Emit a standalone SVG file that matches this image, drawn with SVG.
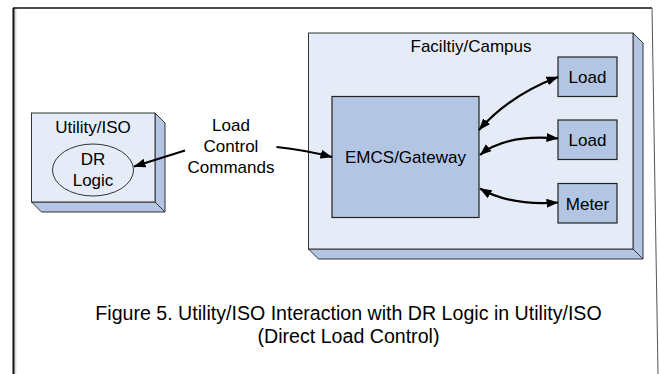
<svg xmlns="http://www.w3.org/2000/svg" width="659" height="374" viewBox="0 0 659 374">
<defs>
<style>
.t{font-family:"Liberation Sans",Arial,sans-serif;fill:#000;text-anchor:middle}
.front{fill:#e6ecf7;stroke:#333;stroke-width:1}
.side{fill:#b4c6e4;stroke:#333;stroke-width:1;stroke-linejoin:round}
.inner{fill:#b2c5e3;stroke:#222;stroke-width:1.2}
.conn{fill:none;stroke:#000;stroke-width:2.2}
</style>
<marker id="ah" viewBox="0 0 12 9" refX="11.5" refY="4.5" markerWidth="12" markerHeight="9" markerUnits="userSpaceOnUse" orient="auto-start-reverse">
<path d="M0,0 L12,4.5 L0,9 z" fill="#000"/>
</marker>
</defs>
<rect width="659" height="374" fill="#fff"/>
<g id="frame">
<line x1="15.5" y1="9" x2="15.5" y2="374" stroke="#ddd" stroke-width="2"/>
<line x1="13.5" y1="8" x2="13.5" y2="374" stroke="#111" stroke-width="2"/>
<line x1="13" y1="8" x2="652" y2="8" stroke="#111" stroke-width="1.5"/>
<line x1="652" y1="8" x2="658" y2="374" stroke="#555" stroke-width="1"/>
</g>
<g id="utility">
<polygon class="side" points="155,113 165,123 165,212 155,202"/>
<polygon class="side" points="31.5,202 155,202 165,212 41.5,212"/>
<rect class="front" x="31.5" y="113" width="123.5" height="89"/>
<text class="t" x="93" y="133" font-size="17">Utility/ISO</text>
</g>
<g id="drlogic">
<ellipse cx="93" cy="170" rx="40.5" ry="26" fill="#e6ecf7" stroke="#333" stroke-width="1"/>
<text class="t" x="93" y="165" font-size="17">DR</text>
<text class="t" x="93" y="186" font-size="17">Logic</text>
</g>
<g id="facility">
<polygon class="side" points="633,33 643,43 643,259 633,249"/>
<polygon class="side" points="308.5,249 633,249 643,259 318.5,259"/>
<rect class="front" x="308.5" y="33" width="324.5" height="216"/>
<text class="t" x="471" y="52" font-size="17">Faciltiy/Campus</text>
</g>
<g id="emcs">
<rect class="inner" x="332" y="96.5" width="147" height="121"/>
<text class="t" x="405.5" y="163" font-size="17">EMCS/Gateway</text>
</g>
<g id="load1">
<rect class="inner" x="558" y="57" width="59" height="39.5"/>
<text class="t" x="587.5" y="83" font-size="17">Load</text>
</g>
<g id="load2">
<rect class="inner" x="558" y="120" width="59" height="39.5"/>
<text class="t" x="587.5" y="146" font-size="17">Load</text>
</g>
<g id="meter">
<rect class="inner" x="558" y="183.5" width="59" height="39.5"/>
<text class="t" x="587.5" y="209.5" font-size="17">Meter</text>
</g>
<g id="label">
<text class="t" x="231" y="131" font-size="17">Load</text>
<text class="t" x="231" y="152" font-size="17">Control</text>
<text class="t" x="231" y="173" font-size="17">Commands</text>
</g>
<g id="connectors">
<path class="conn" d="M185,150.5 L134,166.5" marker-end="url(#ah)"/>
<path class="conn" d="M276.5,147 Q305,150 332,157" marker-end="url(#ah)"/>
<path class="conn" d="M479,130 Q510,95 558,77" marker-start="url(#ah)" marker-end="url(#ah)"/>
<path class="conn" d="M480,155 Q505,134 558,138.5" marker-start="url(#ah)" marker-end="url(#ah)"/>
<path class="conn" d="M480,188.5 Q510,206 558,202.5" marker-start="url(#ah)" marker-end="url(#ah)"/>
</g>
<g id="caption">
<text class="t" x="348.5" y="320" font-size="19.6">Figure 5. Utility/ISO Interaction with DR Logic in Utility/ISO</text>
<text class="t" x="348.5" y="343" font-size="19.6">(Direct Load Control)</text>
</g>
</svg>
